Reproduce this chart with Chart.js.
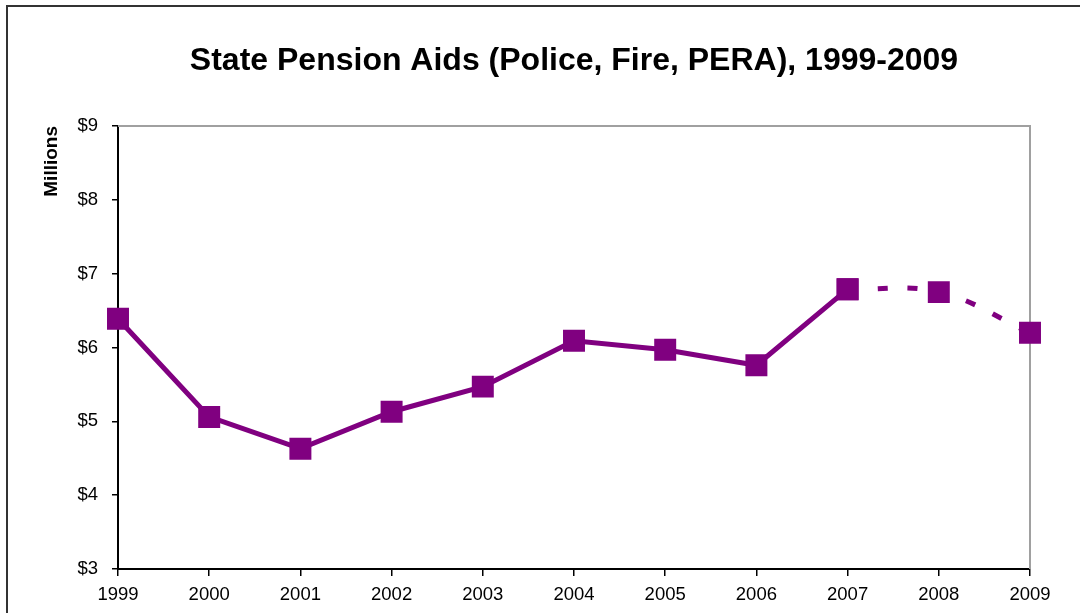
<!DOCTYPE html>
<html>
<head>
<meta charset="utf-8">
<script src="https://cdn.jsdelivr.net/npm/chart.js@4"></script>
<style>
  html, body { margin: 0; padding: 0; background: #fff; }
  #wrap { position: relative; width: 1080px; height: 613px; overflow: hidden; }
  #frame { position: absolute; left: 6px; top: 5px; width: 1200px; height: 700px;
           border-left: 2px solid #333; border-top: 2px solid #333; }
  canvas { position: absolute; left: 0; top: 0; }
</style>
</head>
<body>
<div id="wrap">
  <div id="frame"></div>
  <canvas id="chart" width="1080" height="613"></canvas>
</div>
<script>
const years = ["1999", "2000", "2001", "2002", "2003", "2004", "2005", "2006", "2007", "2008", "2009"]
// actual aids, millions
const actual = [6.39, 5.06, 4.63, 5.13, 5.47, 6.09, 5.97, 5.76, 6.79, null, null]
// estimated (dashed)
const estimate = [null, null, null, null, null, null, null, null, 6.79, 6.75, 6.20]
const yTicks = [3, 4, 5, 6, 7, 8, 9]

const purple = "#800080"
const font = "'Liberation Sans', Arial, sans-serif"

const plotFrame = {
  id: "plotFrame",
  beforeDatasetsDraw(chart) {
    const { ctx, chartArea: a } = chart
    ctx.save()
    ctx.strokeStyle = "#a0a0a0"
    ctx.lineWidth = 2
    ctx.beginPath()
    ctx.moveTo(a.left, a.top)
    ctx.lineTo(a.right, a.top)
    ctx.lineTo(a.right, a.bottom)
    ctx.stroke()
    ctx.restore()
  },
}

new Chart(document.getElementById("chart"), {
  type: "line",
  data: {
    labels: years,
    datasets: [
      {
        data: actual,
        borderColor: purple,
        backgroundColor: purple,
        borderWidth: 5,
        pointStyle: "rect",
        pointRadius: 12,
        pointHoverRadius: 12,
        tension: 0,
      },
      {
        data: estimate,
        borderColor: purple,
        backgroundColor: purple,
        borderWidth: 5,
        borderDash: [10, 20],
        pointStyle: "rect",
        pointRadius: 12,
        pointHoverRadius: 12,
        tension: 0.4,
      },
    ],
  },
  options: {
    responsive: false,
    animation: false,
    layout: { padding: { left: 0, right: 50, top: 0, bottom: 0 } },
    plugins: {
      legend: { display: false },
      tooltip: { enabled: false },
      title: {
        display: true,
        fullSize: false,
        text: "State Pension Aids (Police, Fire, PERA), 1999-2009",
        color: "#000",
        font: { family: font, size: 32, weight: "bold" },
        padding: { top: 42, bottom: 45.6 },
      },
    },
    scales: {
      x: {
        offset: false,
        grid: { display: true, drawOnChartArea: false, drawTicks: true, tickLength: 7, color: "#000", lineWidth: 1.5 },
        border: { display: true, color: "#000", width: 2 },
        ticks: { color: "#000", font: { family: font, size: 18.5 }, padding: 8, maxRotation: 0, autoSkip: false },
        afterFit: (s) => { s.height = 44 },
      },
      y: {
        min: 3,
        max: 9,
        afterBuildTicks: (s) => { s.ticks = yTicks.map((v) => ({ value: v })) },
        grid: { display: true, drawOnChartArea: false, drawTicks: true, tickLength: 6, color: "#000", lineWidth: 1.5 },
        border: { display: true, color: "#000", width: 2 },
        ticks: {
          color: "#000",
          font: { family: font, size: 18.5 },
          padding: 14,
          callback: (v) => "$" + v,
        },
        title: {
          display: true,
          text: "Millions",
          align: "end",
          color: "#000",
          font: { family: font, size: 19, weight: "bold" },
          padding: { top: 40.6, bottom: 0 },
        },
        afterFit: (s) => { s.width = 118 },
      },
    },
  },
  plugins: [plotFrame],
})
</script>
</body>
</html>
